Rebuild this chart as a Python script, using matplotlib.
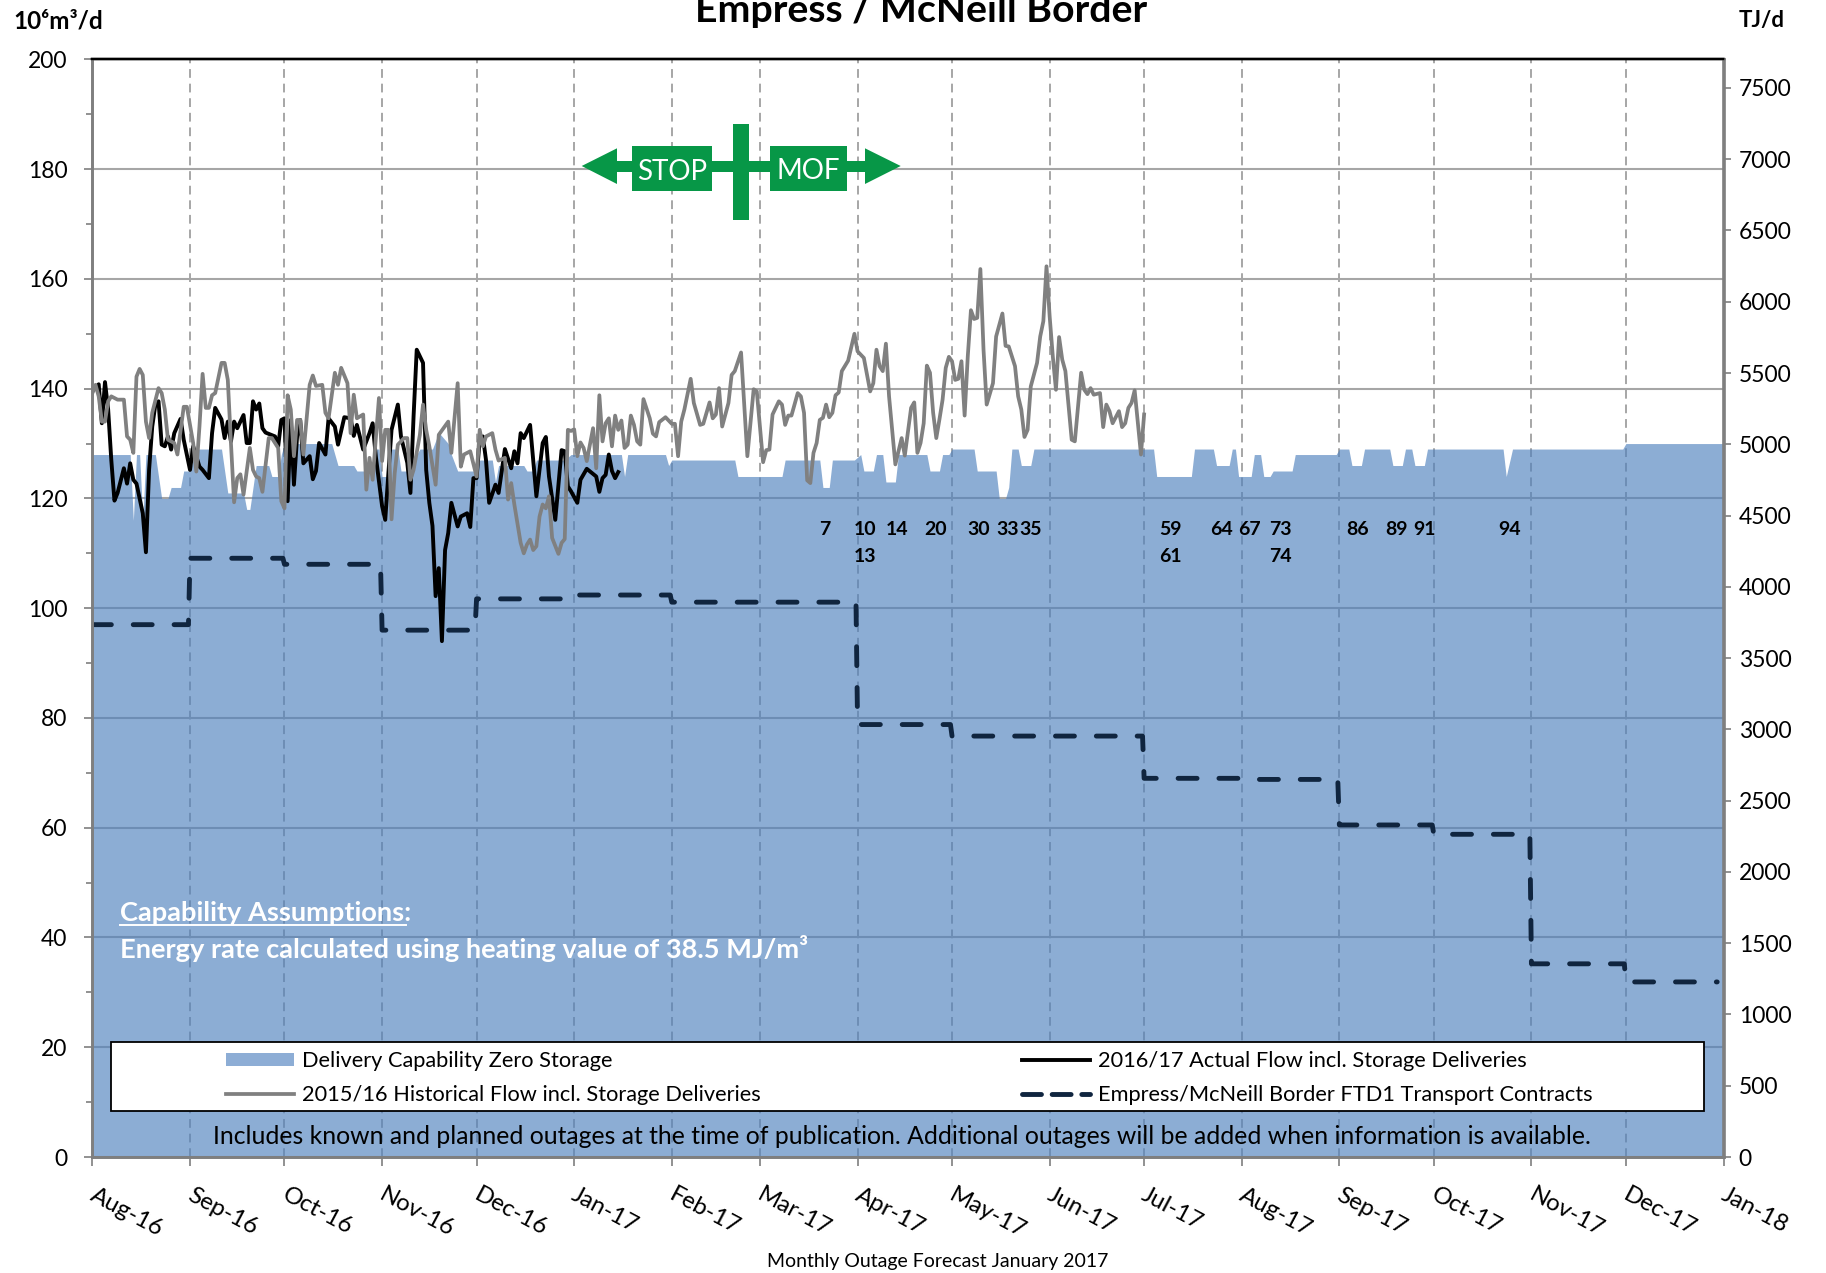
import matplotlib
matplotlib.use("Agg")
import matplotlib.pyplot as plt
from matplotlib.patches import Polygon, Rectangle
from matplotlib.lines import Line2D
from matplotlib.transforms import ScaledTranslation

plt.rcParams['font.family'] = ['Lato', 'DejaVu Sans']

# x values are days counted from 1 Aug 2016
month_days = [0, 31, 61, 92, 122, 153, 184, 212, 243, 273, 304, 334, 365, 396, 426, 457, 487, 518]
month_labels = ["Aug-16", "Sep-16", "Oct-16", "Nov-16", "Dec-16", "Jan-17", "Feb-17", "Mar-17", "Apr-17",
                "May-17", "Jun-17", "Jul-17", "Aug-17", "Sep-17", "Oct-17", "Nov-17", "Dec-17", "Jan-18"]

# 2016/17 actual flow
actual_days = [0, 2, 3, 4, 5, 6, 7, 8, 10, 11, 12, 13, 14, 16, 17, 18, 19, 20, 21, 22, 23, 24, 25, 26, 28, 29, 31,
               32, 34, 35, 37, 38, 39, 41, 42, 43, 44, 45, 46, 48, 49, 50, 51, 52, 53, 54, 55, 58, 59, 60, 61, 62,
               63, 64, 65, 66, 67, 69, 70, 71, 72, 74, 75, 77, 78, 80, 82, 83, 84, 86, 88, 89, 90, 92, 93, 94, 95,
               97, 98, 100, 101, 102, 103, 105, 106, 107, 108, 109, 110, 111, 112, 113, 114, 116, 117, 119, 120,
               121, 122, 123, 124, 125, 126, 128, 129, 131, 133, 134, 135, 136, 137, 139, 141, 143, 144, 145, 147,
               149, 150, 151, 152, 154, 155, 157, 160, 161, 162, 163, 164, 165, 166, 167]
actual_flow = [139.5, 140.8, 133.7, 141.2, 136.2, 127.0, 119.6, 121.0, 125.5, 122.7, 126.4, 123.4, 122.7, 117.3,
               110.2, 125.2, 133.1, 137.1, 137.7, 129.8, 129.5, 131.3, 128.9, 131.9, 134.5, 130.7, 125.2, 129.5,
               125.8, 125.2, 123.7, 131.9, 136.5, 134.4, 131.0, 134.0, 130.4, 134.0, 132.8, 135.2, 130.1, 130.1,
               137.7, 136.2, 137.3, 132.8, 132.0, 131.3, 129.5, 134.3, 134.6, 119.5, 134.3, 122.5, 131.3, 134.3,
               126.4, 127.7, 123.5, 125.0, 130.1, 128.0, 134.6, 133.1, 129.8, 134.8, 134.6, 131.4, 133.4, 128.9,
               131.9, 133.7, 127.7, 118.6, 116.1, 124.6, 132.5, 137.1, 131.3, 126.5, 121.0, 135.0, 147.1, 144.7,
               125.2, 119.2, 115.0, 102.2, 107.3, 94.0, 110.6, 113.7, 119.2, 114.9, 116.7, 117.3, 114.8, 123.7,
               123.7, 130.7, 131.3, 127.0, 119.2, 122.5, 121.0, 129.0, 125.5, 128.6, 126.4, 131.9, 131.0, 133.4,
               120.4, 130.1, 131.2, 124.0, 116.1, 128.8, 128.6, 122.2, 121.3, 119.2, 123.4, 125.4, 124.0, 121.2,
               123.7, 124.3, 128.0, 125.0, 123.7, 124.8]

# 2015/16 historical flow
hist_days = [0, 1, 2, 3, 4, 5, 6, 8, 10, 11, 12, 13, 14, 15, 16, 17, 18, 19, 21, 22, 23, 24, 26, 27, 29, 30, 32, 33,
             34, 35, 36, 37, 38, 39, 41, 42, 43, 44, 45, 46, 47, 48, 50, 51, 52, 53, 54, 56, 57, 59, 60, 61, 62, 63,
             64, 65, 66, 67, 69, 70, 71, 73, 74, 75, 77, 78, 79, 81, 82, 83, 84, 86, 87, 88, 89, 91, 92, 93, 94, 95,
             96, 97, 99, 100, 101, 102, 104, 105, 106, 107, 109, 110, 113, 114, 116, 117, 118, 120, 122, 123, 124,
             125, 127, 128, 129, 131, 132, 133, 134, 136, 137, 138, 139, 140, 141, 142, 143, 144, 145, 146, 148,
             149, 150, 151, 152, 153, 154, 155, 156, 157, 159, 160, 161, 162, 163, 164, 165, 166, 167, 168, 169,
             170, 171, 172, 173, 174, 175, 177, 178, 179, 180, 182, 184, 185, 186, 187, 188, 190, 191, 193, 194,
             196, 197, 198, 199, 200, 202, 203, 204, 206, 208, 210, 211, 213, 214, 215, 216, 218, 219, 220, 221,
             222, 224, 225, 226, 227, 228, 229, 230, 231, 232, 233, 234, 235, 236, 237, 238, 240, 242, 243, 245,
             247, 248, 249, 250, 251, 252, 253, 255, 257, 258, 260, 261, 262, 263, 264, 265, 266, 267, 268, 269,
             270, 271, 272, 273, 274, 275, 276, 277, 278, 279, 280, 281, 282, 283, 284, 286, 287, 289, 290, 291,
             293, 294, 295, 296, 297, 298, 300, 301, 302, 303, 304, 305, 306, 307, 308, 309, 311, 312, 314, 315,
             316, 317, 318, 320, 321, 322, 323, 324, 326, 327, 328, 329, 330, 331, 333, 334]
hist_flow = [139.2, 140.7, 138.6, 134.0, 134.0, 137.7, 138.6, 138.0, 138.0, 131.3, 130.7, 128.3, 142.2, 143.6, 142.5,
             134.0, 131.0, 135.6, 140.1, 139.2, 136.2, 130.7, 130.1, 128.0, 136.7, 136.7, 130.1, 124.9, 133.1, 142.7,
             136.5, 136.5, 138.8, 139.2, 144.7, 144.7, 141.6, 130.1, 119.3, 123.7, 124.4, 120.7, 129.2, 125.2, 124.0,
             123.7, 121.2, 131.0, 131.0, 129.2, 119.5, 118.2, 138.8, 136.2, 127.7, 134.3, 134.3, 128.0, 140.7, 142.4,
             140.5, 140.7, 135.6, 134.6, 142.9, 140.7, 143.8, 141.0, 131.9, 138.9, 134.6, 135.3, 121.6, 127.4, 123.4,
             138.3, 126.8, 132.5, 132.5, 116.2, 124.6, 129.8, 131.0, 131.0, 123.4, 125.2, 131.6, 137.1, 132.5, 129.5,
             122.5, 131.6, 134.0, 128.3, 141.0, 125.8, 128.0, 128.6, 124.0, 132.5, 129.5, 131.3, 131.9, 128.9, 126.9,
             127.4, 119.8, 122.8, 118.9, 111.9, 110.0, 111.6, 112.5, 110.6, 111.3, 116.7, 118.9, 118.2, 120.4, 112.8,
             109.9, 111.9, 112.6, 132.5, 132.3, 132.6, 127.7, 130.2, 129.2, 126.8, 132.8, 125.5, 138.8, 130.4, 133.7,
             134.6, 129.5, 135.1, 132.5, 134.2, 129.2, 129.8, 135.1, 133.4, 130.4, 129.8, 138.1, 134.6, 131.8, 131.3,
             133.9, 134.8, 133.6, 133.6, 127.7, 134.0, 136.2, 141.8, 137.4, 133.4, 133.6, 137.5, 134.6, 135.3, 140.1,
             133.1, 137.4, 142.5, 143.2, 146.6, 127.7, 139.9, 139.5, 126.6, 128.8, 128.9, 135.3, 137.7, 137.1, 133.4,
             135.1, 135.1, 139.2, 138.6, 135.6, 123.3, 122.8, 128.3, 130.1, 134.3, 134.7, 137.1, 134.8, 135.6, 138.8,
             139.3, 143.2, 145.1, 150.0, 146.8, 145.6, 139.5, 141.0, 147.1, 144.1, 143.2, 148.2, 138.6, 126.2, 131.0,
             127.8, 136.5, 137.5, 128.3, 130.1, 133.7, 144.2, 142.9, 135.6, 131.0, 134.4, 138.0, 143.8, 145.8, 145.0,
             141.6, 141.8, 145.0, 135.1, 145.9, 154.3, 152.7, 152.9, 161.8, 147.1, 137.1, 141.0, 149.5, 153.7, 147.8,
             147.7, 144.1, 138.6, 136.2, 131.2, 132.5, 140.4, 144.7, 149.5, 152.3, 162.3, 153.2, 145.9, 139.8, 149.4,
             145.3, 143.2, 130.7, 130.4, 142.9, 139.8, 139.0, 140.1, 138.9, 139.2, 133.0, 137.1, 135.9, 133.7, 135.9,
             133.0, 133.7, 136.5, 137.4, 139.7, 128.0, 135.3]

# delivery capability (breakpoints of the stepped area)
cap_days = [0, 12, 13, 14, 15, 16, 17, 20, 22, 24, 25, 28, 29, 31, 33, 41, 43, 48, 49, 50, 52, 56, 57, 59, 60, 61, 76,
            78, 83, 84, 89, 90, 91, 92, 94, 95, 97, 98, 100, 104, 108, 110, 113, 114, 116, 122, 123, 127, 128, 129,
            137, 138, 140, 141, 150, 152, 168, 169, 170, 182, 183, 184, 204, 205, 219, 220, 231, 232, 234, 235, 242,
            244, 245, 248, 249, 251, 252, 255, 256, 265, 266, 269, 270, 272, 273, 280, 281, 287, 288, 290, 291, 292,
            294, 295, 298, 299, 337, 338, 349, 350, 356, 357, 361, 362, 363, 364, 368, 369, 371, 372, 374, 375, 381,
            382, 395, 396, 399, 400, 403, 404, 412, 413, 416, 417, 419, 420, 423, 424, 448, 449, 451, 486, 487, 518]
cap_vals = [128, 128, 116, 128, 128, 116, 128, 128, 120, 120, 122, 122, 125, 125, 129, 129, 121, 121, 118, 118, 126,
            126, 124, 124, 128, 130, 130, 126, 126, 125, 125, 129, 129, 124, 124, 129, 129, 125, 125, 129, 129, 132,
            130, 128, 125, 125, 127, 127, 123, 126, 126, 125, 125, 127, 127, 128, 128, 124, 128, 128, 126, 127, 127,
            124, 124, 127, 127, 122, 122, 127, 127, 128, 125, 125, 128, 128, 123, 123, 128, 128, 125, 125, 128, 128,
            129, 129, 125, 125, 120, 120, 122, 129, 129, 126, 126, 129, 129, 124, 124, 129, 129, 126, 126, 129, 129,
            124, 124, 128, 128, 124, 124, 125, 125, 128, 128, 129, 129, 126, 126, 129, 129, 126, 126, 129, 129, 126,
            126, 129, 129, 124, 129, 129, 130, 130]

# FTD1 contracts, one level per month
contract_vals = [97.0, 109.1, 108.0, 96.0, 101.7, 102.4, 101.1, 101.1, 78.8, 76.7, 76.7, 69.0, 68.8, 60.5, 58.8, 35.2, 31.9]
contract_end = 516

outage_labels = ["7", "10", "14", "20", "30", "33", "35", "59", "64", "67", "73", "86", "89", "91", "94", "13", "61", "74"]
outage_days = [232.6, 245.5, 255.7, 267.9, 281.6, 290.6, 298.0, 342.3, 358.5, 367.6, 377.4, 401.7, 414.3, 423.2, 450.2,
               245.5, 342.3, 377.4]
outage_levels = [114.4] * 15 + [109.5] * 3

W, H = 1826, 1273


def fx(px):
    return px / W


def fy(py):
    return 1 - py / H


fig = plt.figure(figsize=(W / 100, H / 100), dpi=100)
ax = fig.add_axes([fx(92.4), fy(1157), (1723.5 - 92.4) / W, (1157 - 59.4) / H])

contract_x = []
contract_y = []
for i, v in enumerate(contract_vals):
    contract_x += [month_days[i], month_days[i + 1] - 0.5 if i < len(contract_vals) - 1 else contract_end]
    contract_y += [v, v]

ax.set_axisbelow(True)
ax.grid(axis='y', which='major', color='#A6A6A6', lw=1.5, zorder=0)
for d in month_days[1:-1]:
    ax.axvline(d, color='#A6A6A6', lw=1.4, dashes=(4.5, 3), zorder=0)

ax.fill_between(cap_days, cap_vals, 0, color='#4F81BD', alpha=0.65, lw=0, zorder=1)
ax.plot(contract_x, contract_y, color='#10253F', lw=3.5, dashes=(3.9, 4.5), dash_capstyle='round', zorder=2)
ax.plot(actual_days, actual_flow, color='black', lw=2.8, zorder=3)
ax.plot(hist_days, hist_flow, color='#808080', lw=2.7, zorder=4)

for lab, d, v in zip(outage_labels, outage_days, outage_levels):
    ax.text(d, v, lab, ha='center', va='center', fontsize=14, fontweight='bold', zorder=5)

ax.set_xlim(0, 518)
ax.set_ylim(0, 200)
ax.set_xticks(month_days)
ax.set_xticklabels(month_labels, rotation=-28, ha='left', va='top', rotation_mode='anchor')
ax.set_yticks(range(0, 201, 20))
ax.set_yticks(range(10, 200, 20), minor=True)
ax.tick_params(axis='x', length=6.5, width=1.2, color='#7F7F7F', labelsize=17.3, pad=13)
ax.tick_params(axis='y', which='major', length=6, width=1.2, color='#7F7F7F', labelsize=16.5, pad=12)
ax.tick_params(axis='y', which='minor', length=4, width=1.2, color='#7F7F7F')
shift = ScaledTranslation(4 / 100, 0, fig.dpi_scale_trans)
for lab in ax.get_xticklabels():
    lab.set_transform(lab.get_transform() + shift)

ax2 = ax.twinx()
ax2.set_ylim(0, 7700)
ax2.set_yticks(range(0, 7501, 500))
ax2.tick_params(axis='y', length=6, width=1.2, color='#7F7F7F', labelsize=16.5, pad=5)

for a in (ax, ax2):
    for side in ('left', 'right', 'bottom'):
        a.spines[side].set_color('#7F7F7F')
        a.spines[side].set_linewidth(1.9)
    a.spines['top'].set_color('black')
    a.spines['top'].set_linewidth(1.7)

# stop / mof marker
green = '#079747'
fig.add_artist(Polygon([(fx(581.7), fy(166)), (fx(617), fy(148.3)), (fx(617), fy(184))], transform=fig.transFigure, color=green, lw=0))
fig.add_artist(Polygon([(fx(900.7), fy(166)), (fx(865), fy(148.3)), (fx(865), fy(184))], transform=fig.transFigure, color=green, lw=0))
fig.add_artist(Rectangle((fx(617), fy(172.3)), (865 - 617) / W, 11.6 / H, transform=fig.transFigure, color=green, lw=0))
fig.add_artist(Rectangle((fx(631.7), fy(191)), 80.6 / W, 45 / H, transform=fig.transFigure, color=green, lw=0))
fig.add_artist(Rectangle((fx(770), fy(191)), 76.7 / W, 45 / H, transform=fig.transFigure, color=green, lw=0))
fig.add_artist(Rectangle((fx(733.3), fy(220)), 15.7 / W, 95.7 / H, transform=fig.transFigure, color=green, lw=0))
fig.text(fx(672), fy(171.5), "STOP", color='white', fontsize=20, ha='center', va='center')
fig.text(fx(808), fy(171), "MOF", color='white', fontsize=20, ha='center', va='center')

# legend box
fig.add_artist(Rectangle((fx(110.5), fy(1110.5)), (1703.6 - 110.5) / W, 68.5 / H, transform=fig.transFigure,
                         facecolor='white', edgecolor='black', lw=1.3))
fig.add_artist(Rectangle((fx(226), fy(1066)), 68 / W, 13 / H, transform=fig.transFigure, color='#8DADD5', lw=0))
fig.add_artist(Line2D([fx(226), fx(294)], [fy(1094), fy(1094)], transform=fig.transFigure, color='#808080', lw=2.7))
fig.add_artist(Line2D([fx(1022), fx(1090)], [fy(1060), fy(1060)], transform=fig.transFigure, color='black', lw=2.8))
fig.add_artist(Line2D([fx(1022), fx(1090)], [fy(1094), fy(1094)], transform=fig.transFigure, color='#10253F', lw=3.5,
                      dashes=(3.9, 2.2), dash_capstyle='round'))
leg_size = 15.7
fig.text(fx(302), fy(1061), "Delivery Capability Zero Storage", fontsize=leg_size, va='center')
fig.text(fx(302), fy(1095), "2015/16 Historical Flow incl. Storage Deliveries", fontsize=leg_size, va='center')
fig.text(fx(1098), fy(1061), "2016/17 Actual Flow incl. Storage Deliveries", fontsize=leg_size, va='center')
fig.text(fx(1098), fy(1095), "Empress/McNeill Border FTD1 Transport Contracts", fontsize=leg_size, va='center')

fig.text(fx(902), fy(1136), "Includes known and planned outages at the time of publication. Additional outages will be added when information is available.",
         fontsize=17.8, ha='center', va='center')

# capability note
fig.text(fx(120), fy(913), "Capability Assumptions:", color='white', fontsize=19.6, fontweight='bold', va='center')
fig.add_artist(Line2D([fx(120), fx(406)], [fy(925), fy(925)], transform=fig.transFigure, color='white', lw=1.4))
fig.text(fx(120), fy(949), "Energy rate calculated using heating value of 38.5 MJ/m³", color='white', fontsize=19.6,
         fontweight='bold', va='center')

fig.text(fx(921), fy(22), "Empress / McNeill Border", fontsize=28.3, fontweight='bold', ha='center', va='baseline')
fig.text(fx(13), fy(21), "10⁶m³/d", fontsize=17.5, fontweight='bold', va='center')
fig.text(fx(1739), fy(21), "TJ/d", fontsize=16, fontweight='bold', va='center')
fig.text(fx(938), fy(1262), "Monthly Outage Forecast January 2017", fontsize=14, ha='center', va='center')

fig.savefig("out.png", dpi=100)
